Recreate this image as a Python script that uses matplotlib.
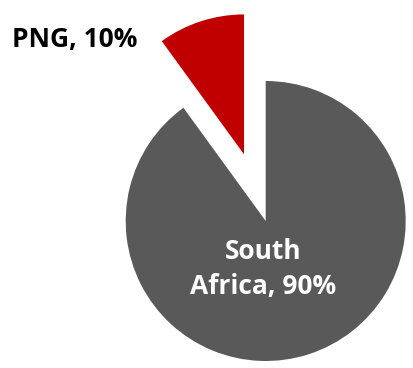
import matplotlib
matplotlib.use("Agg")
import matplotlib.pyplot as plt

labels = ["PNG", "South\nAfrica"]
shares = [10, 90]
colors = ["#C00000", "#595959"]
explode = [0.5, 0]

fig = plt.figure(figsize=(4.13, 3.68), dpi=100)
ax = fig.add_axes([0, 0, 1, 1])

wedges, _ = ax.pie(shares, colors=colors, explode=explode, startangle=90,
                   counterclock=True, radius=1)

# pixel-matched limits (centre ~ (266, 221) px, radius 140 px)
ax.set_xlim(-265.7 / 140, (413 - 265.7) / 140)
ax.set_ylim((221 - 368) / 140, 221 / 140)
ax.set_aspect("auto")
ax.axis("off")

font = dict(family=["Open Sans", "DejaVu Sans"], fontweight="bold", fontsize=19)
ax.text(-1.362, 1.293, f"{labels[0]}, {shares[0]}%", ha="center", va="center",
        color="black", **font)
ax.text(-0.02, -0.343, f"{labels[1]}, {shares[1]}%", ha="center", va="center",
        color="white", linespacing=1.42, **font)

fig.savefig("out.png", dpi=100)
